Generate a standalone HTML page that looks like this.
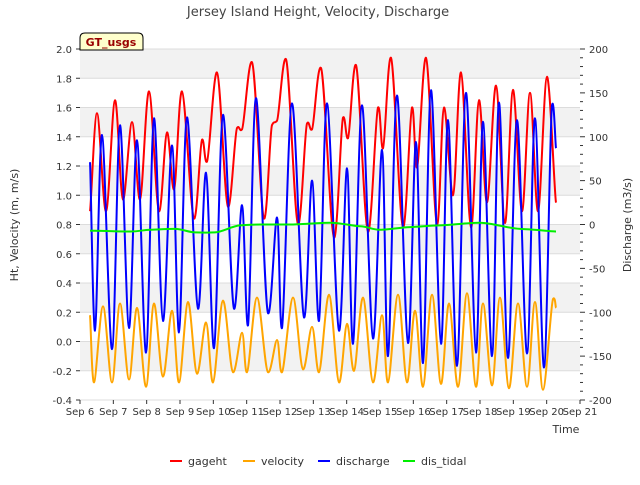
<!DOCTYPE html>
<html><head><meta charset="utf-8"><style>
body{margin:0;background:#fff;font-family:"Liberation Sans","DejaVu Sans",sans-serif}
svg text{font-family:"DejaVu Sans","Liberation Sans",sans-serif}
</style></head><body>
<svg id="chart" width="640" height="480" xmlns="http://www.w3.org/2000/svg">
<rect width="640" height="480" fill="#fff"/>
<text x="318" y="16" text-anchor="middle" font-size="13" fill="#444">Jersey Island Height, Velocity, Discharge</text>
<g id="bands"></g>
<g id="axes"></g>
<g id="series"></g>
<g>
<path d="M80,50 L80,38 Q80,33 85,33 L138,33 Q143,33 143,38 L143,50 Z" fill="#ffffcc" stroke="#000" stroke-width="1"/>
<text x="111" y="46" text-anchor="middle" font-size="11" font-weight="bold" fill="#990000">GT_usgs</text>
</g>
<text transform="translate(18,225) rotate(-90)" text-anchor="middle" font-size="11" fill="#333">Ht, Velocity (m, m/s)</text>
<text transform="translate(631,225) rotate(-90)" text-anchor="middle" font-size="11" fill="#333">Discharge (m3/s)</text>
<text x="566" y="433" text-anchor="middle" font-size="11" fill="#333">Time</text>
<g id="legend"></g>
</svg>
<script>
const NS="http://www.w3.org/2000/svg";
const xTickLabels=["Sep 6","Sep 7","Sep 8","Sep 9","Sep 10","Sep 11","Sep 12","Sep 13","Sep 14","Sep 15","Sep 16","Sep 17","Sep 18","Sep 19","Sep 20","Sep 21"];
const yTicks=[-0.4,-0.2,0.0,0.2,0.4,0.6,0.8,1.0,1.2,1.4,1.6,1.8,2.0];
const y2Ticks=[-200,-150,-100,-50,0,50,100,150,200];
const gagehtDays=[0.30,0.51,0.78,1.05,1.29,1.56,1.80,2.07,2.37,2.61,2.82,3.06,3.42,3.66,3.81,4.11,4.44,4.71,4.86,5.16,5.52,5.76,5.91,6.18,6.54,6.81,6.96,7.23,7.62,7.89,8.04,8.28,8.64,8.94,9.09,9.33,9.69,9.96,10.11,10.38,10.71,10.92,11.19,11.43,11.73,11.97,12.21,12.48,12.75,12.99,13.26,13.50,13.74,14.01,14.28];
const gagehtVals=[0.89,1.56,0.89,1.65,0.97,1.50,0.97,1.71,0.89,1.43,1.04,1.71,0.84,1.38,1.23,1.84,0.92,1.46,1.45,1.91,0.84,1.48,1.51,1.93,0.80,1.49,1.45,1.87,0.71,1.53,1.39,1.89,0.75,1.60,1.32,1.94,0.78,1.60,1.19,1.94,0.80,1.60,1.00,1.84,0.78,1.65,0.95,1.75,0.81,1.72,0.89,1.70,0.89,1.81,0.95];
const velDays=[0.30,0.42,0.69,0.96,1.20,1.47,1.71,1.98,2.22,2.49,2.76,2.97,3.24,3.51,3.78,3.99,4.29,4.59,4.86,5.01,5.31,5.64,5.91,6.06,6.39,6.69,6.96,7.17,7.47,7.77,8.01,8.22,8.49,8.79,9.06,9.24,9.54,9.81,10.05,10.29,10.56,10.83,11.07,11.34,11.61,11.88,12.09,12.36,12.60,12.87,13.14,13.41,13.65,13.89,14.19,14.28];
const velVals=[0.18,-0.28,0.24,-0.28,0.26,-0.26,0.23,-0.31,0.26,-0.24,0.21,-0.28,0.27,-0.22,0.13,-0.28,0.28,-0.21,0.06,-0.21,0.30,-0.21,0.01,-0.21,0.30,-0.19,0.10,-0.21,0.32,-0.28,0.12,-0.20,0.30,-0.28,0.18,-0.28,0.32,-0.28,0.21,-0.31,0.32,-0.29,0.26,-0.31,0.33,-0.31,0.26,-0.30,0.30,-0.32,0.26,-0.31,0.27,-0.33,0.29,0.23];
const disDays=[0.30,0.45,0.66,0.96,1.20,1.47,1.71,1.98,2.22,2.49,2.76,2.97,3.21,3.54,3.78,4.02,4.29,4.62,4.86,5.04,5.28,5.64,5.91,6.06,6.36,6.72,6.96,7.17,7.41,7.77,8.01,8.19,8.46,8.79,9.06,9.24,9.51,9.84,10.08,10.29,10.53,10.83,11.04,11.31,11.58,11.88,12.09,12.36,12.57,12.84,13.11,13.41,13.65,13.92,14.16,14.28];
const disVals=[71,-121,102,-142,113,-118,96,-146,121,-110,90,-123,122,-96,59,-141,125,-96,22,-115,144,-101,8,-118,138,-106,50,-110,138,-121,64,-136,136,-130,85,-150,147,-135,94,-158,153,-136,119,-161,150,-146,117,-150,139,-152,119,-147,121,-163,136,87];
const tidalDays=[0.3,1.5,2.1,2.85,3.45,4.05,4.8,5.4,6.3,7.5,8.4,9.0,9.9,10.8,12.0,13.2,14.28];
const tidalVals=[-7,-8,-6,-5,-9,-9,-1,0,0,2,-2,-6,-3,-1,2,-5,-8];

const X0=80,X1=580,YT=49,YB=400;
const xs=d=>X0+d*(X1-X0)/15;
const yl=v=>YB-(v+0.4)*(YB-YT)/2.4;
const yr=v=>YB-(v+200)*(YB-YT)/400;
function el(t,a,p){const e=document.createElementNS(NS,t);for(const k in a)e.setAttribute(k,a[k]);p.appendChild(e);return e;}
const bands=document.getElementById('bands'),axes=document.getElementById('axes'),series=document.getElementById('series'),legend=document.getElementById('legend');
const bg=el('rect',{x:X0,y:YT,width:X1-X0,height:YB-YT,fill:'#fff'},bands);


for(let i=0;i<yTicks.length-1;i+=2){
  const top=yTicks[yTicks.length-1-i],bot=yTicks[yTicks.length-2-i];
  const b=el('rect',{x:X0,y:yl(top),width:X1-X0,height:yl(bot)-yl(top),fill:'#f2f2f2'},bands);
  
  
}
yTicks.forEach(v=>{
  const g=el('line',{x1:X0,x2:X1,y1:yl(v),y2:yl(v),stroke:'#dcdcdc','stroke-width':1},bands);
  
  
  const t=el('text',{x:X0-8,y:yl(v)+4,'text-anchor':'end','font-size':10,fill:'#333'},axes);
  t.textContent=v.toFixed(1);
  
  
  el('line',{x1:X0-4,x2:X0,y1:yl(v),y2:yl(v),stroke:'#333'},axes);
});
for(let v=-200;v<=200;v+=10){
  el('line',{x1:X1,x2:X1+(v%50===0?5:3),y1:yr(v),y2:yr(v),stroke:'#333'},axes);
}
y2Ticks.forEach(v=>{
  const t=el('text',{x:X1+9,y:yr(v)+4,'text-anchor':'start','font-size':10,fill:'#333'},axes);
  t.textContent=v;
  
  
});
xTickLabels.forEach((s,i)=>{
  el('line',{x1:xs(i),x2:xs(i),y1:YB,y2:YB+4,stroke:'#333'},axes);
  const t=el('text',{x:xs(i),y:YB+15,'text-anchor':'middle','font-size':10,fill:'#333'},axes);
  t.textContent=s;
  
  
});
function smooth(pts){
  let d='M'+pts[0][0].toFixed(1)+','+pts[0][1].toFixed(1);
  for(let i=0;i<pts.length-1;i++){
    const p0=pts[i-1]||pts[i],p1=pts[i],p2=pts[i+1],p3=pts[i+2]||p2;
    const c1=[p1[0]+(p2[0]-p0[0])/6,p1[1]+(p2[1]-p0[1])/6*0.3];
    const c2=[p2[0]-(p3[0]-p1[0])/6,p2[1]-(p3[1]-p1[1])/6*0.3];
    d+=' C'+c1.map(n=>n.toFixed(1))+' '+c2.map(n=>n.toFixed(1))+' '+p2[0].toFixed(1)+','+p2[1].toFixed(1);
  }
  return d;
}
function draw(days,vals,yf,color,name){
  const pts=days.map((d,i)=>[xs(d),yf(vals[i])]);
  const p=el('path',{d:smooth(pts),fill:'none',stroke:color,'stroke-width':2,'stroke-linejoin':'round'},series);
  
  
}
draw(gagehtDays,gagehtVals,yl,'#ff0000','gageht-line');
draw(velDays,velVals,yl,'#ffa500','velocity-line');
draw(disDays,disVals,yr,'#0000ff','discharge-line');
draw(tidalDays,tidalVals,yr,'#00ee00','dis-tidal-line');
el('rect',{x:X0,y:YT,width:X1-X0,height:YB-YT,fill:'none',stroke:'none'},axes);
const leg=[['gageht','#ff0000',170],['velocity','#ffa500',243],['discharge','#0000ff',318],['dis_tidal','#00ee00',403]];
leg.forEach(([n,c,x])=>{
  const g=el('g',{},legend);
  
  
  el('line',{x1:x,x2:x+12,y1:461,y2:461,stroke:c,'stroke-width':2},g);
  const t=el('text',{x:x+18,y:465,'font-size':11,fill:'#333'},g);
  t.textContent=n;
});
</script>
</body></html>
